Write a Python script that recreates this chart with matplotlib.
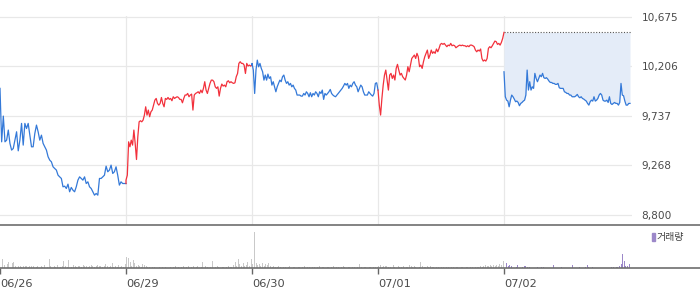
import numpy as np
import matplotlib.pyplot as plt
from matplotlib.lines import Line2D
from matplotlib.patches import Rectangle

# --- data ---
dates = ["06/26", "06/29", "06/30", "07/01", "07/02"]
price_ticks = [8800, 9268, 9737, 10206, 10675]
prev_close = 10525   # 07/01 close, dotted reference line on 07/02

p_0626 = [9996, 9491, 9734, 9491, 9507, 9602, 9476, 9413, 9428, 9507, 9586, 9406,
          9507, 9665, 9460, 9665, 9617, 9665, 9554, 9444, 9444, 9570, 9649, 9586,
          9507, 9554, 9476, 9444, 9413, 9350, 9318, 9302, 9255, 9239, 9224, 9176,
          9160, 9145, 9066, 9072, 9050, 9091, 9019, 9060, 9034, 9019, 9066, 9129,
          9160, 9145, 9129, 9160, 9097, 9113, 9066, 9050, 9019, 8987, 9003, 8987,
          9145, 9145, 9160, 9176, 9261, 9208, 9224, 9271, 9192, 9208, 9255, 9176,
          9082, 9113, 9097, 9097, 9097]
p_0629 = [9129, 9176, 9491, 9444, 9507, 9460, 9602, 9475, 9324, 9539, 9680, 9690,
          9680, 9696, 9743, 9822, 9743, 9791, 9728, 9775, 9791, 9838, 9885, 9901,
          9854, 9838, 9854, 9910, 9854, 9822, 9901, 9892, 9910, 9892, 9901, 9879,
          9917, 9901, 9910, 9917, 9910, 9892, 9892, 9860, 9901, 9933, 9933, 9948,
          9917, 9933, 9942, 9791, 9933, 9948, 9955, 9964, 9948, 9980, 9955, 9996,
          10059, 9980, 9948, 9996, 10043, 10074, 10074, 10059, 10011, 9996, 10011, 9923,
          9996, 10037, 10018, 10027, 10011, 10059, 10068, 10049, 10059, 10049, 10043, 10049,
          10106, 10137, 10232, 10248, 10232, 10232, 10216, 10137, 10232, 10207, 10216, 10207,
          10216]
p_0630 = [10232, 10169, 9948, 10169, 10263, 10200, 10232, 10185, 10153, 10074, 10122, 10074,
          10131, 10090, 10106, 10027, 10059, 10011, 9964, 10011, 10043, 10074, 10059, 10106,
          10122, 10074, 10043, 10059, 10027, 10043, 10011, 10027, 9996, 9980, 9933, 9933,
          9933, 9923, 9923, 9948, 9933, 9964, 9948, 9917, 9955, 9917, 9948, 9933,
          9964, 9948, 9917, 9964, 9948, 9980, 9892, 9948, 9933, 9948, 9964, 9986,
          9948, 9933, 9923, 9917, 9933, 9948, 9964, 9980, 9996, 10018, 10043, 10027,
          10043, 9996, 10027, 10011, 10043, 10059, 10027, 10011, 9964, 9996, 10027, 10011,
          9964, 9933, 9933, 9933, 9964, 9948, 9933, 9923, 9948, 10043, 10049, 9980]
p_0701 = [9980, 9838, 9744, 9901, 10027, 10122, 10169, 10075, 9980, 10122, 10138, 10090,
          10122, 10075, 10185, 10223, 10169, 10122, 10138, 10106, 10090, 10075, 10122, 10201,
          10153, 10216, 10279, 10295, 10311, 10279, 10327, 10295, 10201, 10216, 10185, 10248,
          10295, 10327, 10358, 10279, 10311, 10358, 10327, 10342, 10327, 10368, 10342, 10374,
          10412, 10421, 10412, 10421, 10405, 10390, 10405, 10399, 10421, 10399, 10405, 10399,
          10380, 10390, 10399, 10405, 10399, 10405, 10399, 10399, 10390, 10399, 10390, 10405,
          10405, 10399, 10390, 10358, 10342, 10358, 10349, 10368, 10279, 10254, 10264, 10254,
          10279, 10374, 10390, 10380, 10399, 10421, 10443, 10437, 10412, 10421, 10405, 10431,
          10469, 10525]
p_0702 = [10153, 9917, 9885, 9876, 9822, 9885, 9933, 9917, 9895, 9870, 9876, 9863,
          9832, 9854, 9863, 9876, 9885, 9933, 10169, 9980, 10059, 9980, 10011, 9996,
          10138, 10090, 10059, 10090, 10122, 10106, 10138, 10097, 10090, 10097, 10084, 10065,
          10052, 10052, 10043, 10043, 10034, 10034, 10043, 10002, 9996, 9996, 9996, 9964,
          9958, 9948, 9948, 9933, 9933, 9917, 9917, 9917, 9926, 9939, 9917, 9907,
          9917, 9901, 9895, 9885, 9876, 9854, 9838, 9870, 9885, 9876, 9917, 9876,
          9885, 9901, 9933, 9948, 9933, 9885, 9876, 9876, 9885, 9863, 9917, 9854,
          9844, 9854, 9863, 9854, 9854, 9838, 9863, 10043, 9933, 9926, 9876, 9838,
          9838, 9854, 9854]

# volume per 5-minute slot (thousand shares)
v_0626 = [0, 9, 3, 0, 4, 6, 0, 5, 6, 2, 0, 2, 2, 1, 2, 2, 2, 1, 2, 2, 2, 0, 1, 2, 0, 2,
          1, 3, 0, 1, 9, 2, 0, 2, 1, 3, 0, 1, 2, 7, 2, 1, 8, 0, 1, 3, 2, 1, 2, 2, 1, 3,
          2, 2, 1, 2, 3, 2, 1, 2, 3, 2, 2, 1, 2, 4, 2, 1, 2, 5, 1, 2, 1, 3, 1, 2, 1, 4]
v_0629 = [11, 10, 6, 2, 8, 5, 2, 3, 2, 1, 4, 3, 2, 1, 1, 0, 1, 1, 0, 0, 1, 0, 1, 0, 1, 0,
          0, 1, 0, 1, 2, 0, 1, 0, 1, 2, 0, 1, 2, 0, 1, 2, 0, 1, 2, 0, 1, 6, 0, 2, 1, 0,
          1, 7, 0, 1, 2, 1, 0, 1, 1, 0, 1, 2, 1, 1, 3, 6, 2, 9, 4, 2, 5, 2, 3, 6, 2, 9]
v_0630 = [4, 36, 5, 3, 4, 2, 5, 2, 4, 3, 5, 2, 1, 2, 1, 1, 2, 1, 0, 1, 1, 0, 1, 2, 0, 1,
          1, 0, 1, 1, 0, 1, 2, 0, 1, 1, 0, 1, 1, 0, 1, 2, 0, 1, 1, 0, 1, 1, 0, 1, 2, 0,
          1, 1, 0, 1, 2, 1, 0, 1, 1, 0, 1, 1, 0, 1, 4, 1, 0, 1, 1, 0, 1, 1, 0, 1, 1, 1]
v_0701 = [2, 3, 1, 2, 2, 2, 1, 1, 0, 3, 1, 0, 2, 1, 1, 2, 0, 1, 1, 3, 2, 1, 2, 1, 0, 1,
          6, 2, 1, 1, 2, 1, 2, 1, 1, 0, 1, 1, 0, 1, 1, 0, 1, 1, 0, 1, 1, 0, 1, 1, 0, 1,
          1, 0, 1, 1, 0, 1, 1, 0, 1, 1, 1, 2, 1, 2, 3, 2, 2, 3, 2, 3, 2, 3, 2, 4, 3, 7]
v_0702 = [0, 5, 2, 3, 2, 0, 0, 1, 3, 0, 0, 1, 2, 2, 1, 1, 0, 0, 0, 0, 1, 0, 0, 1, 1, 0,
          0, 0, 0, 0, 3, 0, 0, 0, 0, 1, 0, 0, 0, 0, 0, 0, 3, 0, 0, 0, 1, 0, 0, 0, 1, 3,
          1, 0, 1, 0, 0, 0, 0, 0, 0, 0, 0, 0, 0, 0, 1, 1, 0, 1, 1, 2, 4, 14, 7, 2, 2, 4]

prices = [p_0626, p_0629, p_0630, p_0701, p_0702]
volumes = [v_0626, v_0629, v_0630, v_0701, v_0702]

RED = "#f2313c"
BLUE = "#3479d8"
day_colors = [BLUE, RED, BLUE, RED, BLUE]

W, H = 700, 289
fig = plt.figure(figsize=(W / 100, H / 100), dpi=100)
fig.patch.set_facecolor("white")
plt.rcParams["font.family"] = ["DejaVu Sans"]

ax = fig.add_axes([0, 1 - 225 / H, 632 / W, (225 - 16) / H])
axv = fig.add_axes([0, 1 - 268 / H, 632 / W, (268 - 226) / H])
xmax = 632 / 126

# price panel
ax.set_xlim(0, xmax)
ax.set_ylim(8705, 10680)
for t in price_ticks:
    ax.axhline(t, color="#e8e8e8", lw=0.9, zorder=0)
for d in range(1, 5):
    ax.axvline(d, color="#e8e8e8", lw=0.9, zorder=0)

last = None
for d, p in enumerate(prices):
    x = np.linspace(d, d + 1, len(p))
    y = np.array(p, dtype=float)
    if d == 4:
        ax.fill_between(x, y, prev_close, color="#e4ecf8", lw=0, zorder=1)
        ax.plot([4, xmax], [prev_close, prev_close], color="#555555",
                lw=0.8, ls=(0, (1, 1.5)), zorder=2)
    elif last is not None:
        x = np.r_[d, x]
        y = np.r_[last, y]
    ax.plot(x, y, color=day_colors[d], lw=0.9, zorder=3)
    last = p[-1]

ax.set_yticks(price_ticks)
ax.set_yticklabels([f"{t:,}" for t in price_ticks])
ax.yaxis.tick_right()
ax.tick_params(axis="y", length=0, pad=7, labelsize=7.6, labelcolor="#4a4a4a")
ax.set_xticks([])
for s in ax.spines.values():
    s.set_visible(False)

# volume panel
for d, v in enumerate(volumes):
    xv = d + (np.arange(len(v)) + 0.5) / len(v)
    axv.bar(xv, v, width=0.008, color="#9c88c9" if d == 4 else "#c9c9c9", lw=0)
axv.set_xlim(0, xmax)
axv.set_ylim(0, 42)
axv.set_yticks([])
axv.set_xticks(range(5))
axv.set_xticklabels(dates, ha="left")
axv.tick_params(axis="x", length=4, width=1, color="#666666", pad=4,
                labelsize=8.2, labelcolor="#4a4a4a")
for s in axv.spines.values():
    s.set_visible(False)

# full-width separators
for yy in (225, 268):
    fig.add_artist(Line2D([0, 1], [1 - yy / H, 1 - yy / H], color="#6e6e6e",
                          lw=1.2, transform=fig.transFigure))

# volume legend
fig.add_artist(Rectangle((652 / W, 1 - 241 / H), 2.5 / W, 8 / H, color="#9c88c9",
                         transform=fig.transFigure))
fig.text(657 / W, 1 - 237 / H, "거래량", fontsize=7.2, color="#444444",
         va="center", ha="left", family=["Noto Sans CJK KR", "DejaVu Sans"])

fig.savefig("out.png", dpi=100, facecolor="white")
